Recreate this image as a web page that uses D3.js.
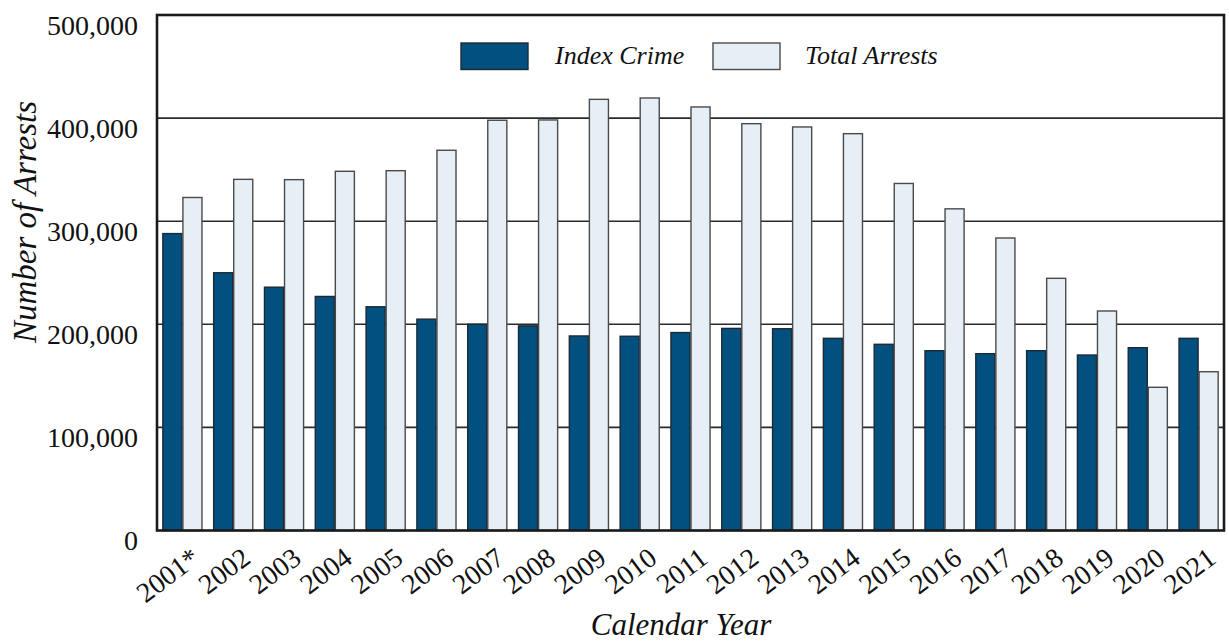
<!DOCTYPE html>
<html>
<head>
<meta charset="utf-8">
<script src="https://cdn.jsdelivr.net/npm/d3@7"></script>
<style>
  html, body { margin: 0; padding: 0; background: #fff; }
  svg { display: block; }
  text { font-family: "Liberation Serif", "Times New Roman", serif; fill: #111; }
</style>
</head>
<body>
<svg id="chart" width="1229" height="642"></svg>
<script>
const years = ["2001*","2002","2003","2004","2005","2006","2007","2008","2009","2010","2011","2012","2013","2014","2015","2016","2017","2018","2019","2020","2021"];
const indexCrime = [288000,250000,236000,227000,217000,205000,200000,198500,188700,188400,192000,196000,195700,186400,180600,174400,171500,174400,170200,177300,186400];
const totalArrests = [323000,340600,340300,348400,349000,368800,397900,398200,418200,419500,410800,394600,391400,384900,336600,312000,283700,244600,212900,138900,154000];
const seriesNames = ["Index Crime","Total Arrests"];
const yTicks = [0,100000,200000,300000,400000,500000];

const colors = { "Index Crime": "#02507f", "Total Arrests": "#e6eef6" };
const strokes = { "Index Crime": "#1c2a36", "Total Arrests": "#4a4a4a" };

const svg = d3.select("#chart");
const L = 157, R = 1224, T = 15, B = 530.5;

const x = d3.scaleBand().domain(years).range([L, R]).paddingInner(0.23).paddingOuter(0.115);
const xs = d3.scaleBand().domain(seriesNames).range([0, x.bandwidth()]).paddingInner(0.05);
const y = d3.scaleLinear().domain([0, 500000]).range([B, T]);

const data = years.map((yr, i) => ({ year: yr, values: [
  { key: "Index Crime", value: indexCrime[i] },
  { key: "Total Arrests", value: totalArrests[i] }
]}));

// gridlines
svg.append("g").selectAll("line").data(yTicks.filter(d => d > 0 && d < 500000)).join("line")
  .attr("x1", L).attr("x2", R).attr("y1", d => y(d)).attr("y2", d => y(d))
  .attr("stroke", "#2a2a2a").attr("stroke-width", 1.6);

// bars
const groups = svg.append("g").selectAll("g").data(data).join("g")
  .attr("transform", d => `translate(${x(d.year)},0)`);
groups.selectAll("rect").data(d => d.values).join("rect")
  .attr("x", d => xs(d.key))
  .attr("width", xs.bandwidth())
  .attr("y", d => y(d.value))
  .attr("height", d => y(0) - y(d.value))
  .attr("fill", d => colors[d.key])
  .attr("stroke", d => strokes[d.key])
  .attr("stroke-width", 1.4);

// frame
svg.append("rect").attr("x", L).attr("y", T).attr("width", R - L).attr("height", B - T)
  .attr("fill", "none").attr("stroke", "#1a1a1a").attr("stroke-width", 2.6);

// y axis labels
const yAxis = d3.axisLeft(y).tickValues(yTicks).tickFormat(d3.format(",")).tickSize(0).tickPadding(19);
const gy = svg.append("g").attr("transform", `translate(${L},0)`).call(yAxis);
gy.select(".domain").remove();
gy.selectAll("text").attr("font-size", 28).attr("dy", 19).attr("font-family", "Liberation Serif").attr("fill", "#111");

// x axis labels
const xAxis = d3.axisBottom(x).tickSize(0).tickPadding(0);
const gx = svg.append("g").attr("transform", `translate(0,${B})`).call(xAxis);
gx.select(".domain").remove();
gx.selectAll("text")
  .attr("font-size", 28).attr("font-family", "Liberation Serif").attr("fill", "#111")
  .attr("text-anchor", "end").attr("dy", 0).attr("y", 0)
  .attr("transform", "translate(19,31) rotate(-37)");

// axis titles
svg.append("text").attr("x", 681).attr("y", 635).attr("text-anchor", "middle")
  .attr("font-size", 31).attr("font-style", "italic").text("Calendar Year");
svg.append("text").attr("transform", "translate(36,222) rotate(-90)").attr("text-anchor", "middle")
  .attr("font-size", 33).attr("font-style", "italic").text("Number of Arrests");

// legend
const legendItems = [
  { key: "Index Crime", sx: 461, tx: 555 },
  { key: "Total Arrests", sx: 713, tx: 805 }
];
const lg = svg.append("g");
lg.selectAll("rect").data(legendItems).join("rect")
  .attr("x", d => d.sx).attr("y", 43).attr("width", 67).attr("height", 26.5)
  .attr("fill", d => colors[d.key]).attr("stroke", d => strokes[d.key]).attr("stroke-width", 1.4);
lg.selectAll("text").data(legendItems).join("text")
  .attr("x", d => d.tx).attr("y", 64)
  .attr("font-size", 26).attr("font-style", "italic").text(d => d.key);
</script>
</body>
</html>
